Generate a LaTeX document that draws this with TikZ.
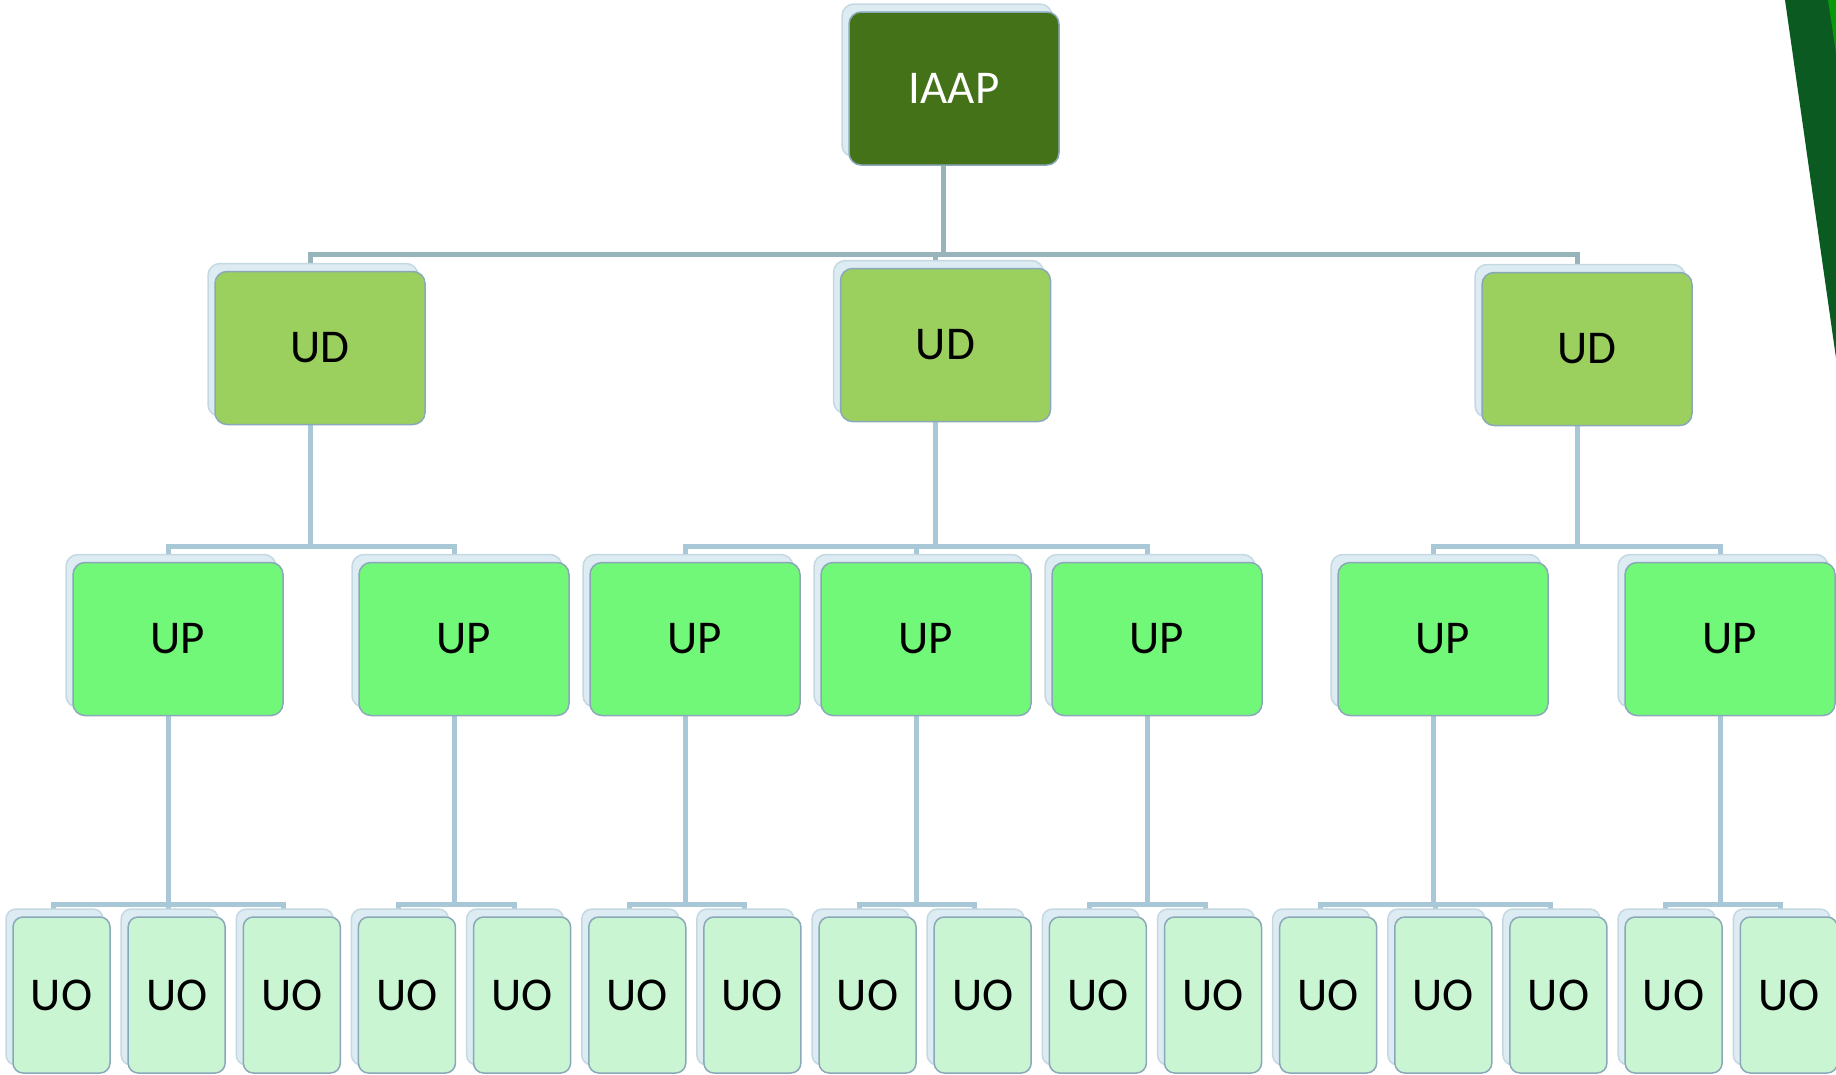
\documentclass[tikz,border=0pt]{standalone}
\usepackage{fontspec}
\setmainfont{Carlito}
\usepackage{tikz}
\usetikzlibrary{shadows,backgrounds}
\definecolor{iaapgreen}{HTML}{437218}
\definecolor{udgreen}{HTML}{9BD05F}
\definecolor{upgreen}{HTML}{72F878}
\definecolor{uogreen}{HTML}{C9F5D3}
\definecolor{boxedge}{HTML}{8AA8BA}
\definecolor{cardback}{HTML}{DDEBF2}
\definecolor{cardedge}{HTML}{C4D8E2}
\definecolor{linktop}{HTML}{96B4BA}
\definecolor{linklow}{HTML}{A8C8D8}
\definecolor{stripedark}{HTML}{0B5A22}
\definecolor{stripelight}{HTML}{089A08}
\tikzset{back card/.style={copy shadow={shadow xshift=-7pt, shadow yshift=8pt, fill=cardback, draw=cardedge}}, unit box/.style={draw=boxedge, line width=1.5pt, rounded corners=12pt, inner sep=0pt, minimum width=210pt, minimum height=153pt, font=\fontsize{47}{56}\selectfont, back card}, iaap box/.style={unit box, fill=iaapgreen, text=white}, ud box/.style={unit box, fill=udgreen}, up box/.style={unit box, fill=upgreen}, uo box/.style={unit box, fill=uogreen, minimum width=97pt, minimum height=156pt, rounded corners=10pt}, tree line/.style={draw=linklow, line width=5pt}, top tree line/.style={tree line, draw=linktop}}

\begin{document}
\begin{tikzpicture}[x=1pt,y=-1pt]
\useasboundingbox (0,0) rectangle (1836,1074);
\fill[stripedark] (1785,0) -- (1836,0) -- (1836,358) -- cycle;
\fill[stripelight] (1828,0) -- (1836,0) -- (1836,53) -- cycle;
\node[iaap box] (iaap) at (954,88.5) {IAAP};
\node[ud box] (ud1) at (320,348) {UD};
\node[ud box] (ud2) at (945.5,345) {UD};
\node[ud box] (ud3) at (1587,349) {UD};
\foreach \x [count=\p] in {178,464,695,926,1157,1443,1730}
  \node[up box] (up\p) at (\x,639) {UP};
\foreach \o in {0,...,15}
  \node[uo box] (uo\o) at ({61.5+115.15*\o},995) {UO};
%lines go behind the cards
\begin{scope}[on background layer]
\foreach \d in {1,2,3}
  \draw[top tree line] ([xshift=-11pt]iaap.south) -- ++(0,89) -| ([xshift=-10pt]ud\d.north);
\foreach \d/\p/\h in {1/1/121,1/2/121,2/3/124,2/4/124,2/5/124,3/6/120,3/7/120}
  \draw[tree line] ([xshift=-10pt]ud\d.south) -- ++(0,\h) -| ([xshift=-10pt]up\p.north);
\foreach \p/\o in {1/0,1/1,1/2,2/3,2/4,3/5,3/6,4/7,4/8,5/9,5/10,6/11,6/12,6/13,7/14,7/15}
  \draw[tree line] ([xshift=-10pt]up\p.south) -- ++(0,188) -| ([xshift=-8pt]uo\o.north);
\end{scope}
\end{tikzpicture}
\end{document}
